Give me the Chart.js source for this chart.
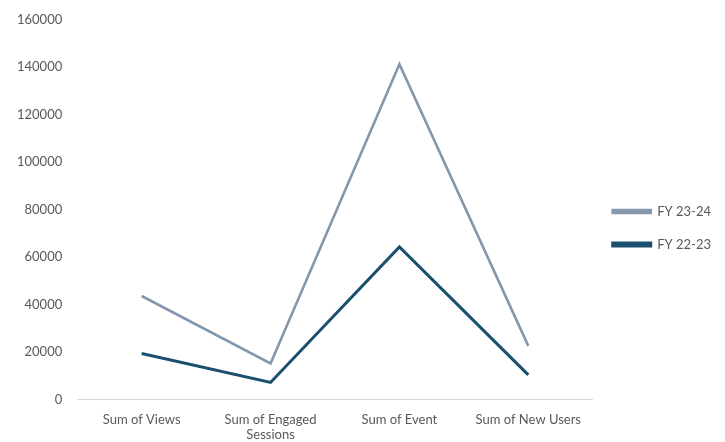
<!DOCTYPE html>
<html>
<head>
<meta charset="utf-8">
<script src="https://cdn.jsdelivr.net/npm/chart.js@4.4.1/dist/chart.umd.min.js"></script>
<style>
  html, body { margin: 0; padding: 0; background: #fff; overflow: hidden; }
  #wrap { width: 725px; height: 458px; margin-top: -3px; }
</style>
</head>
<body>
<div id="wrap"><canvas id="line-chart"></canvas></div>
<script>
var categories = ["Sum of Views", ["Sum of Engaged", "Sessions"], "Sum of Event", "Sum of New Users"];
var fy2324 = [43700, 15300, 141300, 22700];
var fy2223 = [19500, 7300, 64400, 10500];
var seriesNames = ["FY 23-24", "FY 22-23"];

var textColor = "#595959";
var lightLine = "#8497ab";
var darkLine = "#1b4f6e";

var lineData = {
  labels: categories,
  datasets: [{
    label: seriesNames[0],
    data: fy2324,
    borderColor: lightLine,
    backgroundColor: lightLine,
    borderWidth: 2.6,
    pointRadius: 0,
    tension: 0
  }, {
    label: seriesNames[1],
    data: fy2223,
    borderColor: darkLine,
    backgroundColor: darkLine,
    borderWidth: 3,
    pointRadius: 0,
    tension: 0
  }]
};

var chartOptions = {
  responsive: true,
  maintainAspectRatio: false,
  animation: false,
  layout: { padding: { top: 4, left: 2, right: 4, bottom: 0 } },
  plugins: {
    legend: {
      position: "right",
      labels: {
        boxWidth: 38,
        boxHeight: 3,
        padding: 20,
        color: textColor,
        font: { family: "Lato", size: 13 }
      }
    },
    tooltip: { enabled: false }
  },
  scales: {
    x: {
      offset: true,
      grid: { display: false, drawTicks: false },
      border: { display: true, color: "#d9d9d9", width: 1 },
      ticks: {
        color: textColor,
        padding: 12,
        maxRotation: 0,
        autoSkip: false,
        font: { family: "Lato", size: 13 }
      }
    },
    y: {
      min: 0,
      max: 160000,
      grid: { display: false, drawTicks: false },
      border: { display: false },
      ticks: {
        stepSize: 20000,
        color: textColor,
        padding: 15,
        font: { family: "Lato", size: 13 },
        callback: function (value) { return String(value); }
      }
    }
  }
};

new Chart(document.getElementById("line-chart"), {
  type: "line",
  data: lineData,
  options: chartOptions
});
</script>
</body>
</html>
